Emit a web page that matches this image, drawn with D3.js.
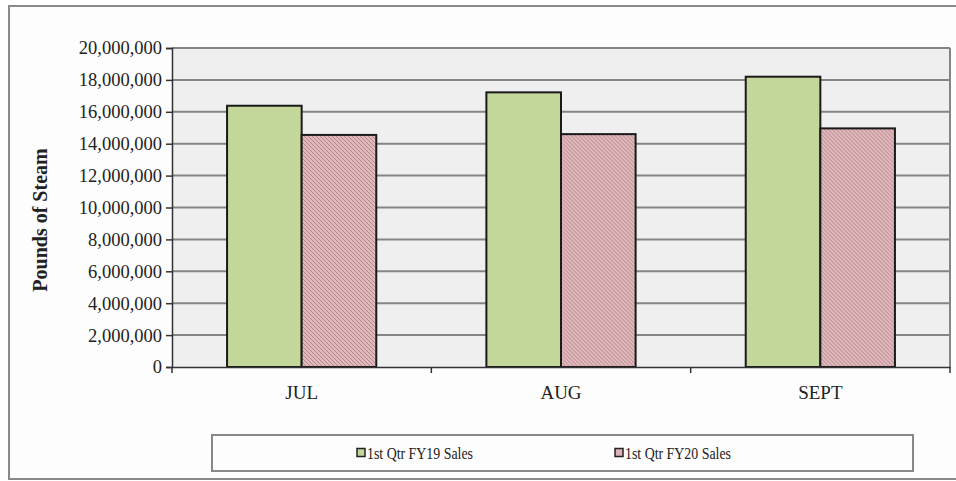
<!DOCTYPE html>
<html>
<head>
<meta charset="utf-8">
<script src="https://cdn.jsdelivr.net/npm/d3@7"></script>
<style>
  html, body { margin: 0; padding: 0; background: #ffffff; }
  svg { display: block; }
</style>
</head>
<body>
<svg id="chart" width="956" height="481"></svg>
<script>
// Steam sales by month, first quarter comparison
const months = ["JUL", "AUG", "SEPT"];
const seriesNames = ["1st Qtr FY19 Sales", "1st Qtr FY20 Sales"];
const fy19Sales = [16380000, 17220000, 18200000];
const fy20Sales = [14550000, 14600000, 14960000];
const yTicks = [0, 2000000, 4000000, 6000000, 8000000, 10000000, 12000000, 14000000, 16000000, 18000000, 20000000];

const svg = d3.select("#chart");
const W = 956, H = 481;
const plot = { left: 172, right: 950, top: 48, bottom: 367 };

// outer chart frame
svg.append("rect").attr("x", 9).attr("y", 6).attr("width", W).attr("height", 473)
  .attr("fill", "#fdfdfd").attr("stroke", "#8a8a8a").attr("stroke-width", 2);

// hatch pattern for FY20 bars
const defs = svg.append("defs");
const pat = defs.append("pattern").attr("id", "hatch").attr("patternUnits", "userSpaceOnUse")
  .attr("width", 4).attr("height", 4);
pat.append("rect").attr("width", 4).attr("height", 4).attr("fill", "#dfb9bb");
pat.append("path").attr("d", "M-1,-1 L5,5 M-1,3 L1,5 M3,-1 L5,1")
  .attr("stroke", "#b4858a").attr("stroke-width", 1);

const x0 = d3.scaleBand().domain(months).range([plot.left, plot.right]).paddingInner(0).paddingOuter(0);
const x1 = d3.scaleBand().domain(seriesNames).range([0, x0.bandwidth()]).paddingInner(0).paddingOuter(0.738);
const y = d3.scaleLinear().domain([0, 20000000]).range([plot.bottom, plot.top]);

// plot background
svg.append("rect").attr("x", plot.left).attr("y", plot.top)
  .attr("width", plot.right - plot.left).attr("height", plot.bottom - plot.top)
  .attr("fill", "#efefef");

// gridlines
svg.append("g").selectAll("line").data(yTicks.filter(d => d > 0)).join("line")
  .attr("x1", plot.left).attr("x2", plot.right)
  .attr("y1", d => y(d)).attr("y2", d => y(d))
  .attr("stroke", "#858585").attr("stroke-width", 2);

// plot border (right side)
svg.append("line").attr("x1", plot.right).attr("x2", plot.right)
  .attr("y1", plot.top).attr("y2", plot.bottom).attr("stroke", "#858585").attr("stroke-width", 2);

// bars
const rows = months.map((m, i) => ({ month: m, values: [fy19Sales[i], fy20Sales[i]] }));
const fills = ["#c3d79b", "url(#hatch)"];
const groups = svg.append("g").selectAll("g").data(rows).join("g")
  .attr("transform", d => `translate(${x0(d.month)},0)`);
groups.selectAll("rect").data(d => d.values.map((v, j) => ({ v, j }))).join("rect")
  .attr("x", d => x1(seriesNames[d.j]))
  .attr("y", d => y(d.v))
  .attr("width", x1.bandwidth())
  .attr("height", d => y(0) - y(d.v))
  .attr("fill", d => fills[d.j])
  .attr("stroke", "#1a1a1a").attr("stroke-width", 2);

// y axis
const yAxis = svg.append("g").attr("transform", `translate(${plot.left},0)`)
  .call(d3.axisLeft(y).tickValues(yTicks).tickSize(6).tickPadding(4)
    .tickFormat(d3.format(",")));
yAxis.select(".domain").attr("stroke", "#333").attr("stroke-width", 1.5);
yAxis.selectAll(".tick line").attr("stroke", "#333").attr("stroke-width", 1.5);
yAxis.selectAll("text").attr("font-family", "Liberation Serif").attr("font-size", 18.5)
  .attr("fill", "#222");

// x axis
const xAxis = svg.append("g").attr("transform", `translate(0,${plot.bottom})`)
  .call(d3.axisBottom(x0).tickSize(0).tickPadding(19));
xAxis.select(".domain").attr("stroke", "#333").attr("stroke-width", 1.5);
xAxis.selectAll("text").attr("font-family", "Liberation Serif").attr("font-size", 19)
  .attr("fill", "#222");
// category boundary ticks
svg.append("g").selectAll("line").data(months.concat(["end"])).join("line")
  .attr("x1", (d, i) => i < months.length ? x0(d) : plot.right)
  .attr("x2", (d, i) => i < months.length ? x0(d) : plot.right)
  .attr("y1", plot.bottom).attr("y2", plot.bottom + 6)
  .attr("stroke", "#333").attr("stroke-width", 1.5);

// y axis title
svg.append("text").attr("transform", "translate(47,220) rotate(-90)")
  .attr("text-anchor", "middle").attr("font-family", "Liberation Serif")
  .attr("font-weight", "bold").attr("font-size", 20).attr("fill", "#222")
  .text("Pounds of Steam");

// legend
const lg = svg.append("g");
lg.append("rect").attr("x", 212).attr("y", 435).attr("width", 701).attr("height", 36)
  .attr("fill", "#fdfdfd").attr("stroke", "#888").attr("stroke-width", 2);
const legendX = [357, 615];
const swatchFill = ["#c3d79b", "#dcb3b5"];
const items = lg.selectAll("g.item").data(seriesNames).join("g").attr("class", "item")
  .attr("transform", (d, i) => `translate(${legendX[i]},453)`);
items.append("rect").attr("x", 0).attr("y", -4.5).attr("width", 8).attr("height", 8)
  .attr("fill", (d, i) => swatchFill[i]).attr("stroke", "#222").attr("stroke-width", 1.5);
items.append("text").attr("x", 10).attr("y", 5.5).attr("font-family", "Liberation Serif")
  .attr("font-size", 16).attr("fill", "#222")
  .attr("textLength", 106).attr("lengthAdjust", "spacingAndGlyphs")
  .text(d => d);
</script>
</body>
</html>
